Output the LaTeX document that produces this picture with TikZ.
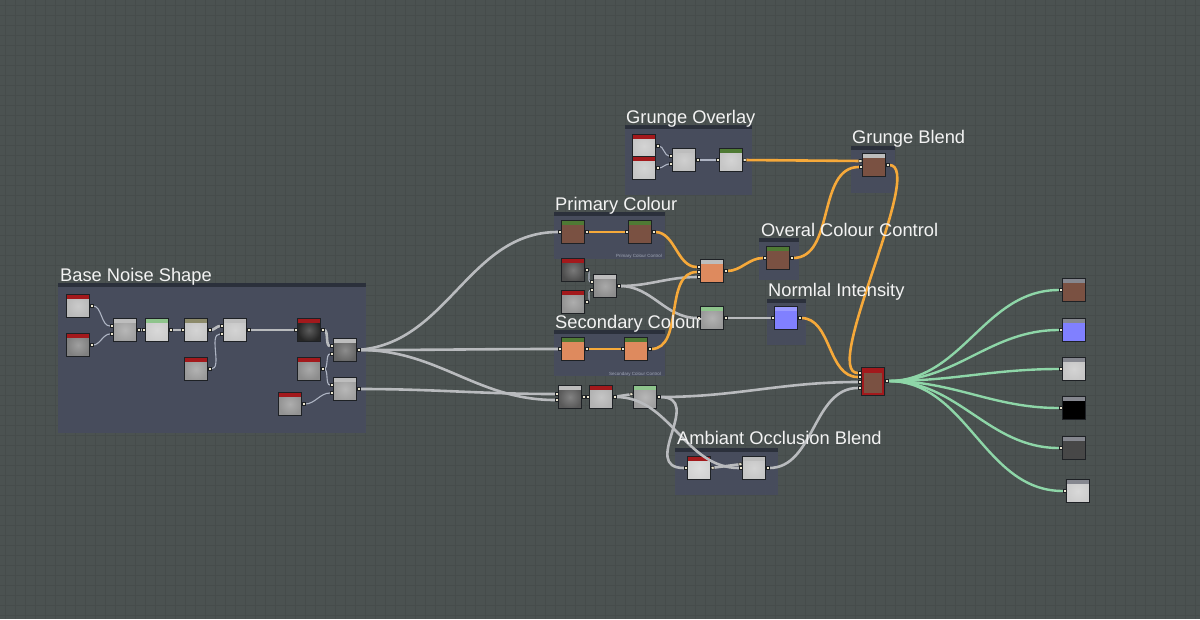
\documentclass[tikz,border=0pt]{standalone}
\usepackage{fontspec}
\setmainfont{Liberation Sans}
\usepackage{tikz}
\usetikzlibrary{arrows.meta}
\definecolor{bgGrey}{HTML}{4B5251}
\definecolor{gridGrey}{HTML}{464C4B}
\definecolor{frameBody}{HTML}{474C5C}
\definecolor{frameBar}{HTML}{2B303B}
\definecolor{tileEdge}{HTML}{1E2125}
\definecolor{hdrRed}{HTML}{A3191C}
\definecolor{hdrGreen}{HTML}{4F7A34}
\definecolor{hdrMint}{HTML}{8EC48C}
\definecolor{hdrOlive}{HTML}{8C8A6A}
\definecolor{hdrGrey}{HTML}{BDBDBD}
\definecolor{hdrDim}{HTML}{85878F}
\definecolor{brownFill}{HTML}{7A5142}
\definecolor{salmonFill}{HTML}{DE8A5E}
\definecolor{violetFill}{HTML}{8080FF}
\definecolor{linkGrey}{HTML}{B9BBBE}
\definecolor{thinGrey}{HTML}{AEB4C3}
\definecolor{linkOrange}{HTML}{F6A93A}
\definecolor{linkGreen}{HTML}{8ED6A8}
\definecolor{portFill}{HTML}{ECE6CF}
\definecolor{titleWhite}{HTML}{F3F3F3}
\definecolor{noteGrey}{HTML}{A2A8B8}
\tikzset{port/.tip={Square[length=3.5pt, width=3.5pt, line width=0.6pt, color=tileEdge, fill=portFill]}}

\begin{document}
\begin{tikzpicture}[x=1pt, y=-1pt,
  gridline/.style={draw=gridGrey, line width=0.6pt},
  frame/.style={fill=frameBody, inner sep=0pt, anchor=north west,
                path picture={\fill[frameBar] (path picture bounding box.north west)
                  rectangle ([yshift=-3.5pt]path picture bounding box.north east);}},
  tile/.style={draw=tileEdge, line width=0.8pt, minimum width=23pt,
               minimum height=23pt, inner sep=0pt, fill=#1},
  tile/.default=gray,
  noise/.style={inner color=white!25!#1, outer color=#1},
  hdr/.style={path picture={\fill[#1] (path picture bounding box.north west)
                rectangle ([yshift=-4pt]path picture bounding box.north east);}},
  rimmed/.style={path picture={
                \draw[hdrRed, line width=5pt] (path picture bounding box.south west)
                  rectangle (path picture bounding box.north east);
                \fill[hdrRed] (path picture bounding box.north west)
                  rectangle ([yshift=-6pt]path picture bounding box.north east);}},
  link/.style={draw=linkGrey, line width=2.6pt, port-port},
  thinlink/.style={link, draw=thinGrey, line width=1.1pt},
  olink/.style={link, draw=linkOrange},
  glink/.style={link, draw=linkGreen, line width=2.4pt},
  title/.style={anchor=base west, inner sep=0pt, text=titleWhite,
                font=\fontsize{18.3}{21}\selectfont},
  note/.style={anchor=base east, inner sep=0pt, text=noteGrey,
               font=\fontsize{4.5}{5}\selectfont},
]
  \useasboundingbox (0,0) rectangle (1200,619);
  \fill[bgGrey] (0,0) rectangle (1200,619);
  \foreach \gx in {5,15,...,1195} \draw[gridline] (\gx,0) -- (\gx,619);
  \foreach \gy in {5,15,...,615} \draw[gridline] (0,\gy) -- (1200,\gy);

  \node[frame, minimum width=308pt, minimum height=150pt] (baseF) at (58,283) {};
  \node[frame, minimum width=127pt, minimum height=70pt] (grungeF) at (625,125) {};
  \node[frame, minimum width=111pt, minimum height=47pt] (primF) at (554,212) {};
  \node[frame, minimum width=111pt, minimum height=46pt] (secF) at (554,330) {};
  \node[frame, minimum width=40pt, minimum height=42pt] (overF) at (759,238) {};
  \node[frame, minimum width=39pt, minimum height=46pt] (normF) at (767,299) {};
  \node[frame, minimum width=44pt, minimum height=47pt] (blendF) at (851,146) {};
  \node[frame, minimum width=103pt, minimum height=47pt] (aoF) at (675,448) {};

  \node[tile, noise=gray!55, hdr=hdrRed] (n1) at (78,306) {};
  \node[tile, noise=gray, hdr=hdrRed] (n2) at (78,345) {};
  \node[tile, noise=gray!75, hdr=hdrGrey] (n3) at (125,330) {};
  \node[tile, noise=gray!40, hdr=hdrMint] (n4) at (157,330) {};
  \node[tile, noise=gray!45, hdr=hdrOlive] (n5) at (196,330) {};
  \node[tile, noise=gray!45, hdr=hdrGrey] (n6) at (235,330) {};
  \node[tile, noise=gray!80, hdr=hdrRed] (n7) at (196,369) {};
  \node[tile, noise=black!85, hdr=hdrRed] (n8) at (309,330) {};
  \node[tile, noise=black!60, hdr=hdrGrey] (n9) at (345,350) {};
  \node[tile, noise=gray!90, hdr=hdrRed] (n10) at (309,369) {};
  \node[tile, noise=gray!75, hdr=hdrGrey] (n11) at (345,389) {};
  \node[tile, noise=gray!85, hdr=hdrRed] (n12) at (290,404) {};

  \node[tile, noise=gray!45, hdr=hdrRed] (g1) at (644,146) {};
  \node[tile, noise=gray!45, hdr=hdrRed] (g2) at (644,168) {};
  \node[tile, noise=gray!50, hdr=hdrGrey] (g3) at (684,160) {};
  \node[tile, noise=gray!45, hdr=hdrGreen] (g4) at (731,160) {};

  \node[tile=brownFill, hdr=hdrGreen] (p1) at (573,232) {};
  \node[tile=brownFill, hdr=hdrGreen] (p2) at (640,232) {};
  \node[tile, noise=black!70, hdr=hdrRed] (r1) at (573,270) {};
  \node[tile, noise=gray!85, hdr=hdrRed] (r2) at (573,302) {};
  \node[tile, noise=gray!90, hdr=hdrGrey] (r3) at (605,286) {};
  \node[tile=salmonFill, hdr=hdrGrey] (mix) at (712,271) {};
  \node[tile, noise=gray!80, hdr=hdrMint] (mask) at (712,318) {};
  \node[tile=salmonFill, hdr=hdrGreen] (s1) at (573,349) {};
  \node[tile=salmonFill, hdr=hdrGreen] (s2) at (636,349) {};

  \node[tile=brownFill, hdr=hdrGreen] (over) at (778,258) {};
  \node[tile=violetFill, hdr=violetFill!80!white] (norm) at (786,318) {};
  \node[tile=brownFill, hdr=hdrGrey] (blend) at (874,165) {};
  \node[tile=brownFill, minimum height=28pt, rimmed] (final) at (873,381) {};

  \node[tile, noise=black!65, hdr=hdrGrey] (c1) at (570,397) {};
  \node[tile, noise=gray!60, hdr=hdrRed] (c2) at (601,397) {};
  \node[tile, noise=gray!75, hdr=hdrMint] (c3) at (645,397) {};
  \node[tile, noise=gray!35, hdr=hdrRed] (ao1) at (699,468) {};
  \node[tile, noise=gray!45, hdr=hdrGrey] (ao2) at (754,468) {};

  \node[tile=brownFill, hdr=hdrDim] (o1) at (1074,290) {};
  \node[tile=violetFill, hdr=hdrDim] (o2) at (1074,330) {};
  \node[tile, noise=gray!45, hdr=hdrDim] (o3) at (1074,369) {};
  \node[tile=black, hdr=hdrDim] (o4) at (1074,408) {};
  \node[tile=black!72, hdr=hdrDim] (o5) at (1074,448) {};
  \node[tile, noise=gray!40, hdr=hdrDim] (o6) at (1078,491) {};

  \draw[thinlink] (n1.east) to[out=0, in=180] ([yshift=4pt]n3.west);
  \draw[thinlink] (n2.east) to[out=0, in=180] ([yshift=-4pt]n3.west);
  \draw[link] (n3.east) -- (n4.west);
  \draw[link] (n4.east) -- (n5.west);
  \draw[link] (n5.east) to[out=0, in=180] ([yshift=4pt]n6.west);
  \draw[thinlink] (n7.east) to[out=0, in=180] ([yshift=-4pt]n6.west);
  \draw[link] (n6.east) -- (n8.west);
  \draw[link] (n8.east) to[out=0, in=180] ([yshift=4pt]n9.west);
  \draw[thinlink] (n10.east) to[out=0, in=180] ([yshift=-4pt]n9.west);
  \draw[thinlink] (n10.east) to[out=0, in=180] ([yshift=4pt]n11.west);
  \draw[thinlink] (n12.east) to[out=0, in=180] ([yshift=-4pt]n11.west);

  \draw[link] (n9.east) to[out=5, in=180] (p1.west);
  \draw[link] (n9.east) to[out=0, in=180] (s1.west);
  \draw[link] (n9.east) to[out=0, in=180] ([yshift=-3pt]c1.west);
  \draw[link] (n11.east) to[out=0, in=180] ([yshift=3pt]c1.west);
  \draw[link] (c1.east) -- (c2.west);
  \draw[link] (c2.east) -- ([yshift=3pt]c3.west);
  \draw[link] (c2.east) to[out=0, in=180] (ao2.west);
  \draw[link] (c3.east) to[out=0, in=180, looseness=1.6] (ao1.west);
  \draw[link] (ao1.east) -- ([yshift=4pt]ao2.west);
  \draw[link] (c3.east) to[out=0, in=180] ([yshift=-1pt]final.west);
  \draw[link] (ao2.east) to[out=0, in=180] ([yshift=-7pt]final.west);

  \draw[thinlink] (g1.east) to[out=0, in=180] ([yshift=4pt]g3.west);
  \draw[thinlink] (g2.east) to[out=0, in=180] ([yshift=-4pt]g3.west);
  \draw[link, draw=thinGrey] (g3.east) -- (g4.west);

  \draw[thinlink] (r1.east) to[out=0, in=180] ([yshift=4pt]r3.west);
  \draw[thinlink] (r2.east) to[out=0, in=180] ([yshift=-4pt]r3.west);
  \draw[link] (r3.east) to[out=0, in=180] ([yshift=-6pt]mix.west);
  \draw[link] (r3.east) to[out=0, in=180] (mask.west);
  \draw[link] (mask.east) -- (norm.west);

  \draw[olink] (p1.east) -- (p2.west);
  \draw[olink] (p2.east) to[out=0, in=180] ([yshift=4pt]mix.west);
  \draw[olink] (s1.east) -- (s2.west);
  \draw[olink] (s2.east) to[out=0, in=180] ([yshift=-1pt]mix.west);
  \draw[olink] (mix.east) to[out=0, in=180] (over.west);
  \draw[olink] (over.east) to[out=0, in=180] ([yshift=-2pt]blend.west);
  \draw[olink] (g4.east) -- ([yshift=4pt]blend.west);
  \draw[olink] (blend.east) to[out=0, in=180, looseness=0.5] ([yshift=8pt]final.west);
  \draw[olink] (norm.east) to[out=0, in=180] ([yshift=4pt]final.west);

  \foreach \o in {o1,o2,o3,o4,o5,o6}
    \draw[glink] (final.east) to[out=0, in=180] (\o.west);

  \node[title] (baseT) at (60,281) {Base Noise Shape};
  \node[title] (grungeT) at (626,123) {Grunge Overlay};
  \node[title] (primT) at (555,210) {Primary Colour};
  \node[title] (secT) at (555,328) {Secondary Colour};
  \node[title] (overT) at (761,236) {Overal Colour Control};
  \node[title] (normT) at (768,296) {Normlal Intensity};
  \node[title] (blendT) at (852,143) {Grunge Blend};
  \node[title] (aoT) at (677,444) {Ambiant Occlusion Blend};
  \node[note] (primN) at (662,257) {Primary Colour Control};
  \node[note] (secN) at (661,375) {Secondary Colour Control};
\end{tikzpicture}
\end{document}
